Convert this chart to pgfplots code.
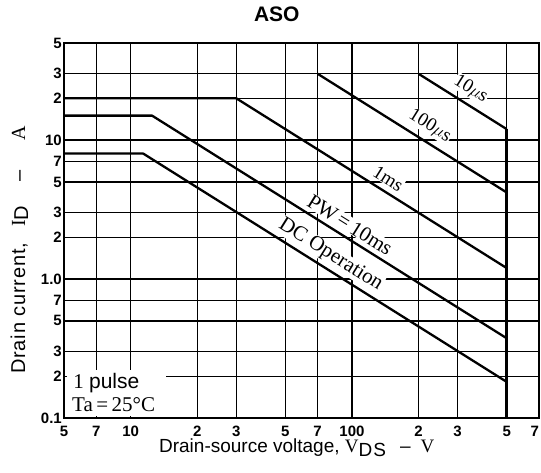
\documentclass[border=0pt]{standalone}
\usepackage{fontspec}
\setmainfont{Liberation Serif}
\setsansfont{Liberation Sans}
\usepackage{pgfplots}
\pgfplotsset{compat=1.18}

\tikzset{
  curve/.style={black, line width=2.3pt, line join=round},
  lbl/.style={font=\fontsize{19}{19}\selectfont, rotate=-32, inner sep=0.5pt, fill=white},
  biglbl/.style={font=\fontsize{21}{21}\selectfont, rotate=-32, inner sep=0.5pt, fill=white},
}

\begin{document}
\begin{tikzpicture}
\path[use as bounding box] (-64pt,-55pt) rectangle (477pt,418pt);
\begin{axis}[
  at={(0pt,0pt)}, anchor=south west,
  width=475pt, height=375pt, scale only axis,
  xmode=log, ymode=log,
  xmin=5, xmax=700, ymin=0.1, ymax=50,
  xtick={5,7,10,20,30,50,70,100,200,300,500,700},
  xticklabels={5,7,10,2,3,5,7,100,2,3,5,\makebox[0pt][r]{7}},
  ytick={0.1,0.2,0.3,0.5,0.7,1,2,3,5,7,10,20,30,50},
  yticklabels={0.1,2,3,5,7,1.0,2,3,5,7,10,2,3,5},
  minor x tick num=0, minor y tick num=0,
  major tick length=0pt, minor tick length=0pt,
  tick style={draw=none},
  grid=major,
  major grid style={black, line width=1.25pt},
  axis line style={black, line width=1.6pt},
  ticklabel style={font=\sffamily\bfseries\fontsize{15}{15}\selectfont},
  xticklabel style={anchor=north, inner sep=0pt, yshift=-8pt},
  yticklabel style={anchor=east, inner sep=0pt, xshift=-2pt},
  title={\sffamily\bfseries\fontsize{21}{21}\selectfont ASO},
  title style={at={(axis description cs:0.448,1.061)}, anchor=center, yshift=0pt},
  xlabel={\sffamily\fontsize{19}{19}\selectfont Drain-source voltage, {\rmfamily V}\raisebox{-4pt}{D\kern1pt S}\hspace{14pt}–\hspace{10pt}{\rmfamily V}},
  xlabel style={at={(axis description cs:0.49,-0.093)}, anchor=base},
  ylabel={\sffamily\fontsize{20}{20}\selectfont\addfontfeatures{LetterSpace=4}Drain current,\hspace{16pt}{\rmfamily I}\raisebox{-3pt}{D}\hspace{24pt}–\hspace{30pt}{\rmfamily A}},
  ylabel style={at={(axis description cs:-0.082,0.448)}, anchor=base},
]
% note box in the lower left corner
\fill[white] (axis cs:5.15,0.103) rectangle (axis cs:14.4,0.222);
\node[anchor=west, font=\fontsize{21}{21}\selectfont, inner sep=0pt] at (axis cs:5.5,0.179) {1 {\sffamily pulse}};
\node[anchor=west, font=\fontsize{21}{21}\selectfont, inner sep=0pt] at (axis cs:5.43,0.124) {Ta\,=\,25°C};

% curve labels (white behind, as in the datasheet)
\node[lbl] at (axis cs:344,23.3) {10$\mu$s};
\node[lbl] at (axis cs:225,12.6) {100$\mu$s};
\node[lbl] at (axis cs:146,5.3) {1ms};
\node[biglbl] at (axis cs:98,2.45) {PW\,=\,10ms};
\node[biglbl] at (axis cs:80,1.49) {DC Operation};

% limit curves
\addplot[curve] coordinates {(200,30) (500,12)};
\addplot[curve] coordinates {(70,30) (500,4.2)};
\addplot[curve] coordinates {(5,20) (30,20) (500,1.2)};
\addplot[curve] coordinates {(5,15) (12.5,15) (500,0.375)};
\addplot[curve] coordinates {(5,8) (11.4,8) (500,0.182)};
\addplot[black, line width=2.5pt] coordinates {(500,12) (500,0.1)};
\end{axis}
\end{tikzpicture}
\end{document}
